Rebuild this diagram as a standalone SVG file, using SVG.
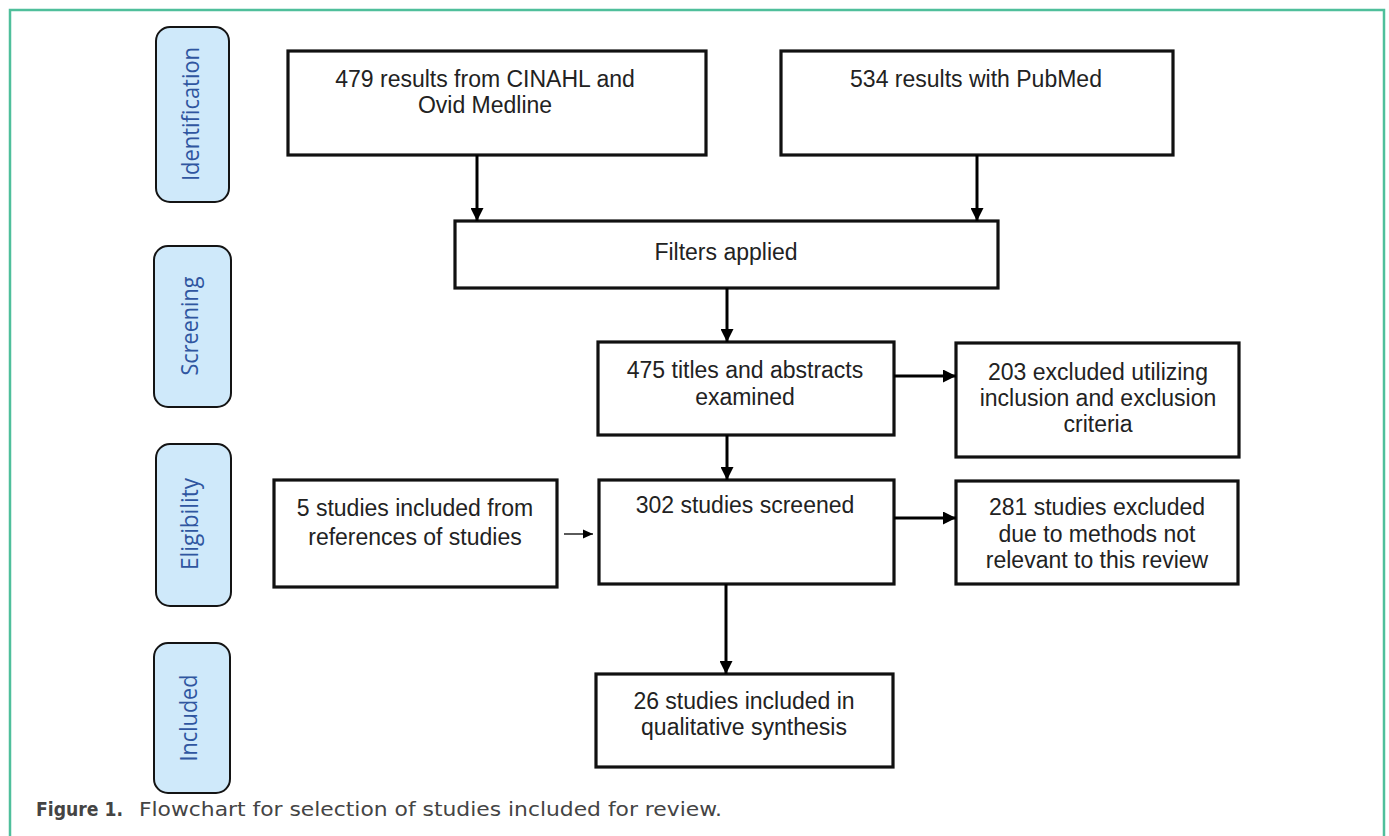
<svg xmlns="http://www.w3.org/2000/svg" width="1389" height="836" viewBox="0 0 1389 836">
<style>
.frame{fill:none;stroke:#4fbf9b;stroke-width:2.5}
.stage rect{fill:#cfe9fa;stroke:#141414;stroke-width:2}
.stage text{font-family:"Open Sans","Liberation Sans",sans-serif;font-size:23px;fill:#2f56a0;text-anchor:middle}
.box rect{fill:#fff;stroke:#111;stroke-width:3.2}
.box text{font-family:"Liberation Sans",Arial,sans-serif;font-size:23px;fill:#222;text-anchor:middle}
.conn line{stroke:#000;stroke-width:3}
.conn line.thin{stroke-width:1.3}
.cap{font-family:"DejaVu Sans","Liberation Sans",sans-serif;font-size:19.5px;fill:#444}
</style>
<defs>
<marker id="ah" markerUnits="userSpaceOnUse" markerWidth="13" markerHeight="13" viewBox="0 0 13 13" refX="13" refY="6.5" orient="auto">
<path d="M0,0 L13,6.5 L0,13 z" fill="#000"/>
</marker>
<marker id="ahs" markerUnits="userSpaceOnUse" markerWidth="10" markerHeight="10" viewBox="0 0 10 10" refX="10" refY="5" orient="auto">
<path d="M0,0.5 L10,5 L0,9.5 z" fill="#000"/>
</marker>
</defs>
<rect width="1389" height="836" fill="#fff"/>
<path class="frame" d="M10,836 V10 H1384 V836"/>

<g id="stage-identification" class="stage">
<rect x="156" y="27" width="73" height="175" rx="14"/>
<text transform="translate(199,114) rotate(-90)" textLength="134" lengthAdjust="spacingAndGlyphs">Identification</text>
</g>
<g id="stage-screening" class="stage">
<rect x="154" y="246" width="77" height="161" rx="14"/>
<text transform="translate(198,326) rotate(-90)" textLength="99" lengthAdjust="spacingAndGlyphs">Screening</text>
</g>
<g id="stage-eligibility" class="stage">
<rect x="156" y="444" width="75" height="162" rx="14"/>
<text transform="translate(198,524) rotate(-90)" textLength="92" lengthAdjust="spacingAndGlyphs">Eligibility</text>
</g>
<g id="stage-included" class="stage">
<rect x="154" y="643" width="76" height="150" rx="14"/>
<text transform="translate(197,718) rotate(-90)" textLength="87" lengthAdjust="spacingAndGlyphs">Included</text>
</g>

<g id="n-cinahl" class="box">
<rect x="288" y="51" width="418" height="104"/>
<text x="485" y="87">479 results from CINAHL and</text>
<text x="485" y="113">Ovid Medline</text>
</g>
<g id="n-pubmed" class="box">
<rect x="781" y="51" width="392" height="104"/>
<text x="976" y="87">534 results with PubMed</text>
</g>
<g id="n-filters" class="box">
<rect x="455" y="221" width="543" height="67"/>
<text x="726" y="260">Filters applied</text>
</g>
<g id="n-titles" class="box">
<rect x="598" y="342" width="296" height="93"/>
<text x="745" y="378">475 titles and abstracts</text>
<text x="745" y="405">examined</text>
</g>
<g id="n-excl203" class="box">
<rect x="956" y="343" width="283" height="114"/>
<text x="1098" y="380">203 excluded utilizing</text>
<text x="1098" y="406">inclusion and exclusion</text>
<text x="1098" y="432">criteria</text>
</g>
<g id="n-refs" class="box">
<rect x="274" y="480" width="283" height="107"/>
<text x="415" y="516">5 studies included from</text>
<text x="415" y="545">references of studies</text>
</g>
<g id="n-screened" class="box">
<rect x="599" y="480" width="295" height="104"/>
<text x="745" y="513">302 studies screened</text>
</g>
<g id="n-excl281" class="box">
<rect x="956" y="481" width="282" height="103"/>
<text x="1097" y="515">281 studies excluded</text>
<text x="1097" y="542">due to methods not</text>
<text x="1097" y="568">relevant to this review</text>
</g>
<g id="n-included" class="box">
<rect x="596" y="674" width="297" height="93"/>
<text x="744" y="709">26 studies included in</text>
<text x="744" y="735">qualitative synthesis</text>
</g>

<g id="connectors" class="conn">
<line x1="477" y1="155" x2="477" y2="221" marker-end="url(#ah)"/>
<line x1="977" y1="155" x2="977" y2="221" marker-end="url(#ah)"/>
<line x1="727" y1="288" x2="727" y2="342" marker-end="url(#ah)"/>
<line x1="894" y1="376" x2="956" y2="376" marker-end="url(#ah)"/>
<line x1="727" y1="435" x2="727" y2="480" marker-end="url(#ah)"/>
<line x1="894" y1="518" x2="956" y2="518" marker-end="url(#ah)"/>
<line class="thin" x1="564" y1="534" x2="593" y2="534" marker-end="url(#ahs)"/>
<line x1="726" y1="584" x2="726" y2="674" marker-end="url(#ah)"/>
</g>

<text class="cap" x="36" y="816" font-weight="bold" fill="#333" textLength="87" lengthAdjust="spacingAndGlyphs">Figure 1.</text>
<text class="cap" x="139" y="816" textLength="583" lengthAdjust="spacingAndGlyphs">Flowchart for selection of studies included for review.</text>
</svg>
